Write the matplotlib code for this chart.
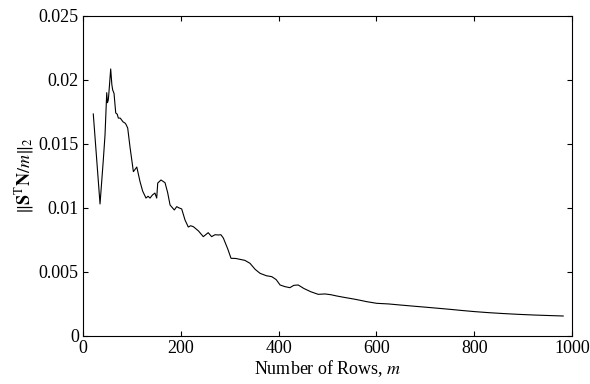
import matplotlib
matplotlib.use("Agg")
import matplotlib.pyplot as plt

m_rows = [21, 34.8, 41.5, 45, 48.5, 50, 51.7, 53, 56.6, 59, 60.7, 63.4, 66.9, 70, 72.2, 76, 79, 82,
          85.9, 88, 91.4, 96, 103, 110, 116.6, 122, 128.8, 133, 137, 142, 147, 150.7, 152.8,
          159.5, 167.7, 173, 178, 186.7, 191.6, 196, 201.8, 208.6, 215.3, 220, 225.6, 236, 246,
          256, 263, 270, 276.7, 282, 287, 296, 302.7, 312, 321, 331, 341.5, 352, 362, 375, 386,
          395, 403, 413, 423, 431, 440, 452, 466, 481, 495, 507, 519, 536, 552.8, 565, 580,
          600.6, 625, 648, 675, 703, 727, 750.5, 775, 801.6, 830, 860, 890, 920, 950, 982]
norm_vals = [0.01732, 0.0103, 0.01373, 0.01568, 0.01898, 0.01820, 0.01841, 0.01900, 0.02083,
             0.01960, 0.01919, 0.01893, 0.0174, 0.01730, 0.0170, 0.01700, 0.01685, 0.01670,
             0.01661, 0.01650, 0.01622, 0.01477, 0.01282, 0.01318, 0.01204, 0.01130, 0.01076,
             0.01090, 0.01076, 0.01100, 0.01115, 0.01076, 0.01193, 0.01217, 0.01196, 0.01120,
             0.01022, 0.00983, 0.01009, 0.01000, 0.00991, 0.00905, 0.0085, 0.00860, 0.00853,
             0.00820, 0.00775, 0.00806, 0.00775, 0.00790, 0.00788, 0.00790, 0.00764, 0.00679,
             0.00606, 0.00605, 0.00598, 0.00590, 0.00567, 0.00520, 0.00489, 0.00470, 0.00463,
             0.00440, 0.00398, 0.00385, 0.00377, 0.00395, 0.00398, 0.00370, 0.00345, 0.00325,
             0.00328, 0.00322, 0.00312, 0.00300, 0.00289, 0.00280, 0.00268, 0.00255, 0.00250,
             0.00242, 0.00233, 0.00224, 0.00216, 0.00208, 0.00199, 0.00190, 0.00182, 0.00175,
             0.00169, 0.00164, 0.00160, 0.00156]

x_ticks = [0, 200, 400, 600, 800, 1000]
y_ticks = [0, 0.005, 0.01, 0.015, 0.02, 0.025]
y_tick_labels = ["0", "0.005", "0.01", "0.015", "0.02", "0.025"]

plt.rcParams['font.family'] = ['Liberation Serif', 'DejaVu Serif']
plt.rcParams['mathtext.fontset'] = 'stix'

fig = plt.figure(figsize=(5.9, 3.84), dpi=100)
ax = fig.add_axes([0.1407, 0.125, 0.8288, 0.8346])
ax.plot(m_rows, norm_vals, color='black', lw=0.8)
ax.set_xlim(0, 1000)
ax.set_ylim(0, 0.025)
ax.set_xticks(x_ticks)
ax.set_xticklabels([str(v) for v in x_ticks])
ax.set_yticks(y_ticks)
ax.set_yticklabels(y_tick_labels)
ax.tick_params(direction='in', length=3.6, width=0.8, top=True, right=True,
               labelsize=13, pad=3)
for s in ax.spines.values():
    s.set_linewidth(0.8)
ax.set_xlabel('Number of Rows, $m$', fontsize=13, labelpad=1)
ax.set_ylabel(r'$\|\mathbf{S}^{\mathrm{T}}\mathbf{N}/m\|_2$', fontsize=13, labelpad=2)
fig.savefig('out.png', dpi=100)
